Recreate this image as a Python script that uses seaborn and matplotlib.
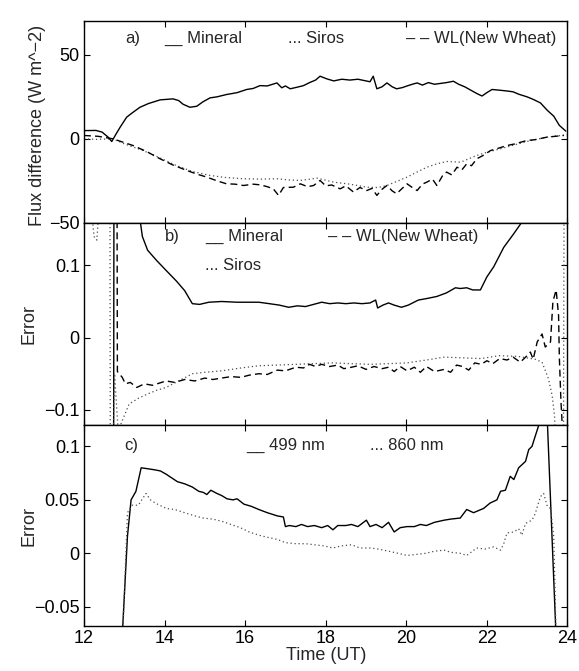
import pandas as pd
import matplotlib
matplotlib.use('Agg')
import matplotlib.pyplot as plt
import seaborn as sns

# ---- panel a: flux difference (W m^-2) ----
a_min_t = [12.0, 12.3, 12.45, 12.6, 12.69, 12.8, 12.9, 13.06, 13.2, 13.39, 13.6, 13.89, 14.05, 14.21,
           14.35, 14.46, 14.63, 14.8, 14.95, 15.13, 15.3, 15.54, 15.8, 16.04, 16.2, 16.37, 16.55, 16.79,
           16.91, 17.0, 17.12, 17.3, 17.45, 17.6, 17.75, 17.86, 18.03, 18.2, 18.4, 18.6, 18.8, 19.0, 19.1,
           19.18, 19.27, 19.4, 19.52, 19.65, 19.76, 19.9, 20.02, 20.15, 20.27, 20.4, 20.55, 20.7, 20.85,
           21.0, 21.17, 21.3, 21.45, 21.6, 21.75, 21.88, 22.0, 22.13, 22.3, 22.5, 22.65, 22.8, 23.0,
           23.15, 23.33, 23.5, 23.66, 23.8, 23.96]
a_min_v = [4.9, 5.0, 4.0, 1.0, -1.6, 3.0, 7.0, 12.9, 15.5, 18.8, 21.0, 23.2, 23.5, 23.8,
           22.8, 20.6, 18.8, 19.4, 22.0, 24.4, 25.0, 26.4, 27.5, 29.4, 30.0, 31.7, 31.5, 33.3,
           30.4, 31.5, 29.8, 30.8, 31.7, 33.5, 35.0, 37.3, 35.7, 34.5, 35.5, 35.0, 35.5, 34.5, 34.0,
           37.3, 29.8, 31.0, 33.3, 31.0, 29.8, 30.5, 31.5, 32.5, 33.3, 32.0, 33.5, 32.5, 33.0,
           33.5, 34.3, 32.5, 31.0, 29.0, 27.0, 25.5, 27.5, 29.4, 29.0, 28.5, 28.0, 26.5, 25.0,
           23.5, 21.4, 17.0, 13.5, 8.0, 4.6]

a_sir_t = [12.0, 12.3, 12.72, 13.0, 13.47, 13.9, 14.3, 14.7, 15.13, 15.5, 15.96, 16.4, 16.79, 17.1,
           17.37, 17.78, 18.2, 18.6, 19.02, 19.3, 19.52, 19.75, 20.02, 20.25, 20.51, 20.75, 21.0,
           21.35, 21.75, 22.0, 22.33, 22.7, 22.99, 23.49, 23.99]
a_sir_v = [0.0, -0.3, 0.0, -3.0, -7.0, -11.5, -16.0, -19.5, -21.8, -23.0, -23.8, -24.0, -23.8, -24.5,
           -24.8, -23.4, -25.8, -27.0, -28.8, -29.0, -27.8, -25.5, -22.8, -20.0, -16.9, -15.0, -13.5,
           -13.9, -9.9, -8.0, -6.0, -3.5, -1.6, 1.0, 2.4]

a_wl_t = [12.0, 12.35, 12.72, 13.22, 13.55, 13.89, 14.2, 14.55, 14.8, 15.05, 15.3, 15.54, 15.75, 15.96,
          16.2, 16.37, 16.55, 16.7, 16.83, 16.95, 17.2, 17.37, 17.55, 17.7, 17.86, 18.0, 18.15, 18.36,
          18.5, 18.69, 18.85, 19.02, 19.15, 19.27, 19.4, 19.52, 19.65, 19.76, 19.9, 20.02, 20.15, 20.27,
          20.4, 20.51, 20.65, 20.76, 20.9, 21.0, 21.13, 21.26, 21.38, 21.5, 21.62, 21.75, 21.9, 22.09,
          22.3, 22.5, 22.7, 22.99, 23.2, 23.49, 23.7, 23.91]
a_wl_v = [2.0, 1.5, 0.0, -4.0, -7.5, -11.9, -15.5, -18.8, -21.0, -22.8, -25.0, -26.8, -27.0, -27.8,
          -27.0, -27.4, -28.5, -29.8, -33.7, -29.0, -28.8, -26.8, -28.5, -27.8, -24.8, -28.0, -27.5, -29.8,
          -28.0, -31.7, -29.0, -30.8, -29.5, -33.7, -30.0, -27.8, -31.0, -32.7, -29.5, -26.8, -29.0, -30.8,
          -27.0, -25.8, -24.0, -27.8, -22.0, -19.8, -21.5, -16.9, -18.5, -14.9, -16.0, -11.9, -10.0, -7.0,
          -5.5, -4.0, -3.0, -1.0, -0.5, 1.0, 1.5, 2.0]

# ---- panel b: error ----
b_min_t = [12.0, 12.73, 12.75, 13.3, 13.45, 13.58, 13.8, 14.04, 14.3, 14.5, 14.69, 14.87, 15.1, 15.42,
           15.8, 16.1, 16.34, 16.6, 16.85, 17.08, 17.3, 17.5, 17.7, 17.9, 18.1, 18.3, 18.5, 18.7, 18.9,
           19.1, 19.24, 19.29, 19.42, 19.56, 19.7, 19.88, 20.05, 20.3, 20.5, 20.76, 21.0, 21.22, 21.34,
           21.5, 21.65, 21.84, 22.0, 22.17, 22.42, 22.67, 22.87, 23.0, 24.0]
b_min_v = [-0.5, -0.5, 0.5, 0.2, 0.14, 0.121, 0.107, 0.093, 0.078, 0.065, 0.047, 0.046, 0.049, 0.050,
           0.049, 0.049, 0.049, 0.047, 0.045, 0.042, 0.044, 0.043, 0.046, 0.049, 0.047, 0.048, 0.047, 0.048, 0.047,
           0.048, 0.052, 0.041, 0.045, 0.048, 0.045, 0.042, 0.045, 0.052, 0.054, 0.057, 0.062, 0.069, 0.068,
           0.069, 0.066, 0.066, 0.084, 0.098, 0.125, 0.144, 0.16, 0.2, 0.5]

b_sir_t = [12.0, 12.15, 12.25, 12.32, 12.4, 12.55, 12.64, 12.66, 12.7, 12.76, 12.85, 12.95, 13.12, 13.35,
           13.58, 13.8, 14.04, 14.35, 14.69, 15.0, 15.42, 15.9, 16.34, 16.8, 17.26, 17.7, 18.18, 18.6,
           19.1, 19.6, 20.02, 20.5, 20.94, 21.4, 21.86, 22.3, 22.78, 23.2, 23.37, 23.53, 23.62, 23.68,
           23.75, 23.9, 23.92, 24.0]
b_sir_v = [0.4, 0.2, 0.14, 0.135, 0.2, 0.4, 0.5, -0.5, -0.2, -0.05, -0.13, -0.115, -0.092, -0.084,
           -0.078, -0.073, -0.069, -0.060, -0.050, -0.048, -0.046, -0.042, -0.039, -0.038, -0.037, -0.036, -0.035, -0.036,
           -0.037, -0.036, -0.035, -0.031, -0.027, -0.028, -0.029, -0.025, -0.026, -0.030, -0.034, -0.057, -0.080, -0.108,
           -0.2, -0.2, 0.3, 0.3]

b_wl_t = [12.0, 12.81, 12.83, 12.95, 13.03, 13.15, 13.31, 13.5, 13.7, 14.04, 14.25, 14.5, 14.75, 15.0,
          15.2, 15.42, 15.65, 15.9, 16.1, 16.34, 16.55, 16.8, 17.0, 17.26, 17.45, 17.6, 17.75, 17.9, 18.1,
          18.3, 18.45, 18.64, 18.8, 19.0, 19.2, 19.4, 19.56, 19.7, 19.85, 20.02, 20.2, 20.35, 20.5, 20.7,
          20.94, 21.1, 21.25, 21.4, 21.55, 21.7, 21.86, 22.0, 22.15, 22.32, 22.5, 22.65, 22.83, 23.0, 23.08,
          23.15, 23.25, 23.37, 23.45, 23.58, 23.64, 23.72, 23.78, 23.8, 23.84, 23.88, 24.0]
b_wl_v = [0.5, 0.5, -0.047, -0.055, -0.064, -0.062, -0.069, -0.064, -0.066, -0.060, -0.062, -0.058, -0.060, -0.056,
          -0.058, -0.056, -0.054, -0.055, -0.052, -0.050, -0.051, -0.045, -0.046, -0.041, -0.042, -0.037, -0.040, -0.037, -0.040,
          -0.038, -0.043, -0.041, -0.039, -0.044, -0.040, -0.043, -0.041, -0.047, -0.040, -0.046, -0.041, -0.048, -0.040, -0.047,
          -0.044, -0.048, -0.038, -0.040, -0.045, -0.035, -0.037, -0.032, -0.036, -0.029, -0.031, -0.027, -0.034, -0.025, -0.020,
          -0.030, -0.006, 0.005, -0.013, -0.006, 0.05, 0.066, 0.031, -0.028, -0.089, -0.13, -0.13]

# ---- panel c: error at two wavelengths ----
c_499_t = [12.0, 12.96, 13.08, 13.17, 13.29, 13.42, 13.6, 13.77, 13.9, 14.04, 14.2, 14.32, 14.5, 14.69,
           14.85, 14.96, 15.05, 15.15, 15.3, 15.42, 15.55, 15.7, 15.8, 15.97, 16.15, 16.34, 16.55, 16.8,
           16.95, 17.0, 17.1, 17.26, 17.4, 17.55, 17.72, 17.9, 18.05, 18.18, 18.3, 18.5, 18.64, 18.8, 19.01,
           19.1, 19.25, 19.4, 19.56, 19.7, 19.85, 20.02, 20.2, 20.35, 20.5, 20.7, 20.94, 21.1, 21.34, 21.5,
           21.67, 21.92, 22.08, 22.25, 22.34, 22.46, 22.58, 22.67, 22.79, 22.96, 23.04, 23.12, 23.29, 23.4,
           23.5, 23.72, 24.0]
c_499_v = [-0.2, -0.07, 0.016, 0.050, 0.058, 0.080, 0.079, 0.078, 0.077, 0.074, 0.070, 0.067, 0.065, 0.062,
           0.058, 0.057, 0.055, 0.059, 0.056, 0.054, 0.051, 0.050, 0.051, 0.046, 0.044, 0.041, 0.038, 0.035,
           0.034, 0.025, 0.026, 0.025, 0.027, 0.025, 0.026, 0.024, 0.026, 0.022, 0.026, 0.026, 0.027, 0.025, 0.031,
           0.025, 0.027, 0.024, 0.029, 0.020, 0.024, 0.025, 0.025, 0.027, 0.026, 0.029, 0.031, 0.032, 0.033, 0.041,
           0.038, 0.042, 0.047, 0.050, 0.058, 0.059, 0.072, 0.069, 0.080, 0.086, 0.097, 0.100, 0.120, 0.14,
           0.125, -0.08, -0.2]

c_860_t = [12.97, 13.08, 13.2, 13.35, 13.54, 13.65, 13.77, 14.04, 14.25, 14.5, 14.75, 14.96, 15.2, 15.42,
           15.65, 15.88, 16.1, 16.34, 16.55, 16.8, 17.0, 17.26, 17.5, 17.72, 17.95, 18.18, 18.4, 18.64,
           18.85, 19.1, 19.3, 19.56, 19.8, 20.02, 20.25, 20.48, 20.7, 20.94, 21.1, 21.34, 21.5, 21.75,
           21.95, 22.17, 22.34, 22.42, 22.5, 22.67, 22.79, 22.87, 22.96, 23.12, 23.2, 23.33, 23.41, 23.5,
           23.58, 23.66, 23.69, 23.72]
c_860_v = [-0.07, 0.038, 0.045, 0.045, 0.056, 0.050, 0.047, 0.042, 0.041, 0.038, 0.035, 0.033, 0.032, 0.030,
           0.027, 0.024, 0.020, 0.017, 0.015, 0.013, 0.010, 0.009, 0.009, 0.008, 0.007, 0.005, 0.007, 0.008,
           0.005, 0.005, 0.004, 0.002, 0.000, -0.002, -0.001, 0.000, 0.002, 0.003, 0.001, 0.000, -0.002, 0.005,
           0.004, 0.006, 0.003, 0.009, 0.019, 0.020, 0.023, 0.017, 0.028, 0.031, 0.037, 0.053, 0.056, 0.044,
           0.042, 0.016, -0.03, -0.08]

time_ticks = [12, 14, 16, 18, 20, 22, 24]

sns.set_style('ticks')
plt.rcParams['font.family'] = ['Liberation Sans', 'DejaVu Sans']
plt.rcParams['axes.linewidth'] = 1.0

fig = plt.figure(figsize=(5.79, 6.71), dpi=100)
ax_a = fig.add_axes([0.145, 0.668, 0.835, 0.301])
ax_b = fig.add_axes([0.145, 0.3666, 0.835, 0.3014])
ax_c = fig.add_axes([0.145, 0.067, 0.835, 0.2996])

solid = dict(color='black', linewidth=1.0)
dotted = dict(color='0.3', linewidth=0.9, linestyle=(0, (1, 2.2)))
dashed = dict(color='black', linewidth=1.0, linestyle=(0, (5, 3)))


def draw(ax, t, v, style):
    df = pd.DataFrame({'t': t, 'v': v})
    sns.lineplot(data=df, x='t', y='v', ax=ax, estimator=None, sort=False, **style)


draw(ax_a, a_min_t, a_min_v, solid)
draw(ax_a, a_sir_t, a_sir_v, dotted)
draw(ax_a, a_wl_t, a_wl_v, dashed)

draw(ax_b, b_min_t, b_min_v, solid)
draw(ax_b, b_sir_t, b_sir_v, dotted)
draw(ax_b, b_wl_t, b_wl_v, dashed)

draw(ax_c, c_499_t, c_499_v, solid)
draw(ax_c, c_860_t, c_860_v, dotted)

ax_a.set_ylim(-50, 70.3)
ax_a.set_yticks([-50, 0, 50])
ax_b.set_ylim(-0.121, 0.159)
ax_b.set_yticks([-0.1, 0, 0.1])
ax_b.set_yticklabels(['\u22120.1', '0', '0.1'])
ax_c.set_ylim(-0.068, 0.12)
ax_c.set_yticks([-0.05, 0, 0.05, 0.1])
ax_c.set_yticklabels(['\u22120.05', '0', '0.05', '0.1'])

for ax in (ax_a, ax_b, ax_c):
    ax.set_xlim(12, 24)
    ax.set_xticks(time_ticks)
    ax.tick_params(direction='in', top=True, right=True, length=4, width=0.8,
                   labelsize=13, colors='black', pad=3)
    ax.set_xlabel('')
    ax.set_ylabel('')
    for s in ax.spines.values():
        s.set_visible(True)
        s.set_color('black')

ax_a.tick_params(labelbottom=False)
ax_b.tick_params(labelbottom=False)

ax_a.set_ylabel('Flux difference (W m^\u22122)', fontsize=13)
ax_a.yaxis.set_label_coords(-0.079, 0.48)
ax_b.set_ylabel('Error', fontsize=13)
ax_b.yaxis.set_label_coords(-0.097, 0.5)
ax_c.set_ylabel('Error', fontsize=13)
ax_c.yaxis.set_label_coords(-0.097, 0.5)
ax_c.set_xlabel('Time (UT)', fontsize=13, labelpad=0)

# in-panel key texts
kw = dict(fontsize=12, va='center', ha='left')
ax_a.text(0.085, 0.914, 'a)', transform=ax_a.transAxes, **kw)
ax_a.text(0.167, 0.914, '__ Mineral', transform=ax_a.transAxes, **kw)
ax_a.text(0.422, 0.914, '... Siros', transform=ax_a.transAxes, **kw)
ax_a.text(0.667, 0.914, '\u2013 \u2013 WL(New Wheat)', transform=ax_a.transAxes, **kw)

ax_b.text(0.167, 0.93, 'b)', transform=ax_b.transAxes, **kw)
ax_b.text(0.251, 0.93, '__ Mineral', transform=ax_b.transAxes, **kw)
ax_b.text(0.504, 0.93, '\u2013 \u2013 WL(New Wheat)', transform=ax_b.transAxes, **kw)
ax_b.text(0.251, 0.79, '... Siros', transform=ax_b.transAxes, **kw)

ax_c.text(0.083, 0.90, 'c)', transform=ax_c.transAxes, **kw)
ax_c.text(0.336, 0.90, '__ 499 nm', transform=ax_c.transAxes, **kw)
ax_c.text(0.592, 0.90, '... 860 nm', transform=ax_c.transAxes, **kw)

fig.savefig('out.png', dpi=100)
